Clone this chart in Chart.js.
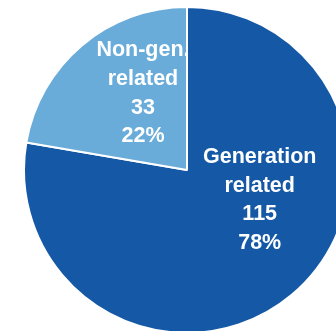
<!DOCTYPE html>
<html>
<head>
<meta charset="utf-8">
<script src="https://cdn.jsdelivr.net/npm/chart.js@4/dist/chart.umd.min.js"></script>
<style>
  html, body { margin: 0; padding: 0; background: #fff; overflow: hidden; }
  #wrap { position: relative; width: 336px; height: 331px; overflow: hidden; }
  #pie { position: absolute; left: 23px; top: 6px; }
</style>
</head>
<body>
<div id="wrap">
  <canvas id="pie" width="328" height="328"></canvas>
</div>
<script>
  "use strict";

  // ── Veriler ───────────────────────────────────────────────────────────────
  const categories = [["Generation", "related"], ["Non-gen.", "related"]];
  const counts     = [115, 33];
  const colors     = ["#1559a6", "#6aacd9"];

  // etiket bloğunun merkezi, yarıçapa oranla (x, y)
  const labelOffsets = [[0.446, 0.185], [-0.27, -0.47]];

  const total = counts.reduce((a, b) => a + b, 0);

  // ── Dilim içi etiketler ───────────────────────────────────────────────────
  const sliceLabels = {
    id: "sliceLabels",
    afterDatasetsDraw(chart) {
      const ctx  = chart.ctx;
      const arcs = chart.getDatasetMeta(0).data;
      const lineH = 28.7;
      ctx.save();
      ctx.fillStyle = "#ffffff";
      ctx.font = "bold 21.5px 'Liberation Sans', Arial, sans-serif";
      ctx.textAlign = "center";
      ctx.textBaseline = "middle";
      arcs.forEach((arc, i) => {
        const { x, y, outerRadius } = arc.getProps(["x", "y", "outerRadius"], true);
        const cx = x + labelOffsets[i][0] * outerRadius;
        const cy = y + labelOffsets[i][1] * outerRadius;
        const lines = [...categories[i], String(counts[i]), Math.round(counts[i] / total * 100) + "%"];
        const top = cy - (lines.length - 1) * lineH / 2;
        lines.forEach((t, j) => ctx.fillText(t, cx, top + j * lineH));
      });
      ctx.restore();
    },
  };

  new Chart(document.getElementById("pie"), {
    type: "pie",
    data: {
      labels: categories.map(c => c.join(" ")),
      datasets: [{
        data: counts,
        backgroundColor: colors,
        borderColor: "#ffffff",
        borderWidth: 2,
        hoverOffset: 0,
      }],
    },
    options: {
      responsive: false,
      animation: false,
      layout: { padding: 0 },
      plugins: {
        legend: { display: false },
        tooltip: { enabled: false },
      },
    },
    plugins: [sliceLabels],
  });
</script>
</body>
</html>
